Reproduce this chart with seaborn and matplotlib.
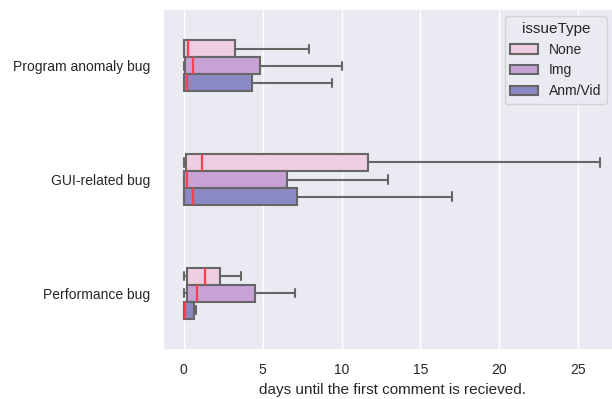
import matplotlib
matplotlib.use("Agg")
import matplotlib.pyplot as plt
import seaborn as sns
import pandas as pd

categories = ["Program anomaly bug", "GUI-related bug", "Performance bug"]
issue_types = ["None", "Img", "Anm/Vid"]

# five-number summaries (min, q1, median, q3, max)
program_none = [0.0, 0.02, 0.27, 3.23, 7.95]
program_img = [0.0, 0.06, 0.59, 4.83, 10.06]
program_anm = [0.0, 0.02, 0.19, 4.30, 9.37]
gui_none = [0.0, 0.15, 1.14, 11.65, 26.4]
gui_img = [0.0, 0.02, 0.21, 6.56, 12.97]
gui_anm = [0.0, 0.02, 0.61, 7.20, 17.0]
perf_none = [0.04, 0.23, 1.33, 2.28, 3.63]
perf_img = [0.04, 0.21, 0.82, 4.54, 7.04]
perf_anm = [0.0, 0.02, 0.08, 0.63, 0.80]

groups = {
    ("Program anomaly bug", "None"): program_none,
    ("Program anomaly bug", "Img"): program_img,
    ("Program anomaly bug", "Anm/Vid"): program_anm,
    ("GUI-related bug", "None"): gui_none,
    ("GUI-related bug", "Img"): gui_img,
    ("GUI-related bug", "Anm/Vid"): gui_anm,
    ("Performance bug", "None"): perf_none,
    ("Performance bug", "Img"): perf_img,
    ("Performance bug", "Anm/Vid"): perf_anm,
}

rows = []
for (cat, it), vals in groups.items():
    for v in vals:
        rows.append({"bugType": cat, "issueType": it, "days": v})
df = pd.DataFrame(rows)

colors = ["#efcde2", "#c8a2d6", "#8b89c3"]

sns.set_theme(style="darkgrid")
plt.rcParams["font.family"] = ["Liberation Sans", "DejaVu Sans"]

W, H = 612, 399
fig = plt.figure(figsize=(W / 100, H / 100), dpi=100)
ax = fig.add_axes([163 / W, 1 - 350 / H, (621 - 163) / W, (350 - 9) / H])

sns.boxplot(
    data=df, x="days", y="bugType", hue="issueType",
    order=categories, hue_order=issue_types,
    palette=colors, saturation=1, width=0.45, gap=0,
    linecolor="#666666", linewidth=1.5, showfliers=False,
    medianprops=dict(color="#f2414f", linewidth=1.6),
    ax=ax,
)

ax.set_xlim(-1.32, 27.72)
ax.set_ylim(2.5, -0.5)
ax.set_xticks([0, 5, 10, 15, 20, 25])
ax.set_xlabel("days until the first comment is recieved.", fontsize=11)
ax.set_ylabel("")
ax.tick_params(axis="both", labelsize=10)

sns.move_legend(
    ax, "upper right",
    bbox_to_anchor=(607 / W, 1 - 16 / H), bbox_transform=fig.transFigure,
    borderaxespad=0, title="issueType", fontsize=10, title_fontsize=11,
)

fig.savefig("out.png", dpi=100)
